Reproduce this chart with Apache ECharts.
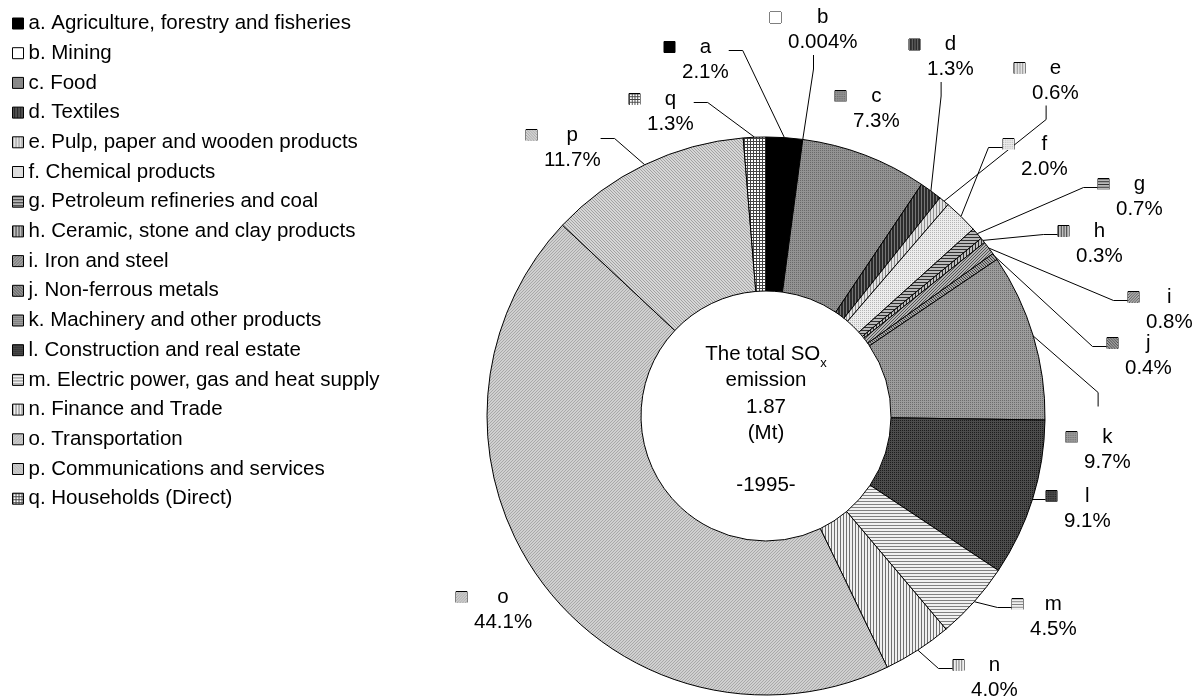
<!DOCTYPE html>
<html>
<head>
<meta charset="utf-8">
<script src="https://cdn.jsdelivr.net/npm/echarts@6/dist/echarts.min.js"></script>
<style>
html, body { margin: 0; padding: 0; background: #fff; }
#main { width: 1194px; height: 697px; }
</style>
</head>
<body>
<div id="main"></div>
<script>
// sectors of the SOx emission, 1995
var sectors = [
    'a. Agriculture, forestry and fisheries',
    'b. Mining',
    'c. Food',
    'd. Textiles',
    'e. Pulp, paper and wooden products',
    'f. Chemical products',
    'g. Petroleum refineries and coal',
    'h. Ceramic, stone and clay products',
    'i. Iron and steel',
    'j. Non-ferrous metals',
    'k. Machinery and other products',
    'l. Construction and real estate',
    'm. Electric power, gas and heat supply',
    'n. Finance and Trade',
    'o. Transportation',
    'p. Communications and services',
    'q. Households (Direct)'
];
var letters = ['a', 'b', 'c', 'd', 'e', 'f', 'g', 'h', 'i', 'j', 'k', 'l', 'm', 'n', 'o', 'p', 'q'];
// share of total (%)
var shares = [2.1, 0.004, 7.3, 1.3, 0.6, 2.0, 0.7, 0.3, 0.8, 0.4, 9.7, 9.1, 4.5, 4.0, 44.1, 11.7, 1.3];
var totalEmission = '1.87';
var year = '1995';

var FONT = 'Liberation Sans, Arial, sans-serif';
var FS = 20.5;
var CX = 766, CY = 416;

// where each label sits: left edge of its key box, middle of its first line
var labelPos = [
    [664, 47], [770, 17.5], [835, 96], [909, 44.5], [1014, 68], [1003, 144],
    [1098, 184], [1058, 231], [1128, 297], [1107, 343], [1066, 437], [1046, 496],
    [1012, 604], [953, 665], [456, 597], [526, 135], [629, 99]
];
var noLine = ['c', 'o'];

// fill patterns (like the old excel hatches)
var patterns = [
    {type: 'solid', bg: '#000000'},
    {type: 'solid', bg: '#ffffff'},
    {type: 'dots', bg: '#939393', fg: '#6a6a6a', step: 2},
    {type: 'vlines', bg: '#2c2c2c', fg: '#767676', step: 3},
    {type: 'vlines', bg: '#e2e2e2', fg: '#909090', step: 3},
    {type: 'dots', bg: '#ededed', fg: '#b4b4b4', step: 2},
    {type: 'hlines', bg: '#b8b8b8', fg: '#303030', step: 3},
    {type: 'vlines', bg: '#c0c0c0', fg: '#303030', step: 3},
    {type: 'diag', bg: '#b4b4b4', fg: '#505050', step: 3, dir: 1},
    {type: 'diag', bg: '#a4a4a4', fg: '#404040', step: 3, dir: -1},
    {type: 'dots', bg: '#9c9c9c', fg: '#6c6c6c', step: 2},
    {type: 'dots', bg: '#4c4c4c', fg: '#1c1c1c', step: 2},
    {type: 'hlines', bg: '#f0f0f0', fg: '#808080', step: 3},
    {type: 'vlines', bg: '#f0f0f0', fg: '#707070', step: 3},
    {type: 'diag', bg: '#d0d0d0', fg: '#a8a8a8', step: 3, dir: 1},
    {type: 'diag', bg: '#d6d6d6', fg: '#a2a2a2', step: 3, dir: -1},
    {type: 'grid', bg: '#ffffff', fg: '#444444', step: 3}
];

function makeTile(p) {
    var c = document.createElement('canvas');
    c.width = 12; c.height = 12;
    var ctx = c.getContext('2d');
    ctx.fillStyle = p.bg;
    ctx.fillRect(0, 0, 12, 12);
    ctx.fillStyle = p.fg || p.bg;
    for (var x = 0; x < 12; x++) {
        for (var y = 0; y < 12; y++) {
            var on = false;
            if (p.type == 'dots') on = (x % p.step == 0 && y % p.step == 0);
            if (p.type == 'vlines') on = (x % p.step == 0);
            if (p.type == 'hlines') on = (y % p.step == 0);
            if (p.type == 'grid') on = (x % p.step == 0 || y % p.step == 0);
            if (p.type == 'diag') on = (((x + p.dir * y) % p.step + p.step) % p.step == 0);
            if (on) ctx.fillRect(x, y, 1, 1);
        }
    }
    return c;
}

function pctText(v) {
    return (v < 0.1 ? String(v) : v.toFixed(1)) + '%';
}

var tiles = patterns.map(makeTile);

var data = sectors.map(function (name, i) {
    return {
        name: name,
        value: shares[i],
        itemStyle: {color: {image: tiles[i], repeat: 'repeat'}},
        label: {
            formatter: '{ic|}{gp|}{n|' + letters[i] + '}\n{pd|}{p|' + pctText(shares[i]) + '}',
            rich: {
                ic: {width: 11, height: 11, backgroundColor: {image: tiles[i]}, borderColor: '#000', borderWidth: 1, align: 'left', verticalAlign: 'middle'},
                gp: {width: 7, align: 'left', verticalAlign: 'middle'},
                n: {align: 'center', verticalAlign: 'middle', fontSize: FS, fontFamily: FONT, color: '#000'},
                pd: {width: 18, align: 'left', verticalAlign: 'middle'},
                p: {align: 'center', verticalAlign: 'middle', fontSize: FS, fontFamily: FONT, color: '#000'}
            }
        },
        labelLine: {show: noLine.indexOf(letters[i]) < 0}
    };
});

var myChart = echarts.init(document.getElementById('main'));

var option = {
    animation: false,
    backgroundColor: '#fff',
    legend: {
        orient: 'vertical',
        left: 7,
        top: 8,
        icon: 'rect',
        itemWidth: 11,
        itemHeight: 11,
        itemGap: 8.7,
        selectedMode: false,
        data: sectors,
        itemStyle: {borderColor: '#000', borderWidth: 1},
        textStyle: {fontSize: FS, color: '#000', fontFamily: FONT}
    },
    graphic: [{
        type: 'text',
        x: CX,
        y: CY + 4,
        silent: true,
        style: {
            text: 'The total SO{sub|x}\nemission\n' + totalEmission + '\n(Mt)\n\n-' + year + '-',
            align: 'center',
            verticalAlign: 'middle',
            fontSize: FS,
            fontFamily: FONT,
            lineHeight: 26.3,
            fill: '#000',
            rich: {
                sub: {fontSize: 13, fontFamily: FONT, padding: [18, 0, 0, 0], fill: '#000'}
            }
        }
    }],
    series: [{
        type: 'pie',
        silent: true,
        center: [CX, CY],
        radius: [125, 279],
        startAngle: 90,
        clockwise: true,
        avoidLabelOverlap: false,
        data: data,
        itemStyle: {borderColor: '#000', borderWidth: 1},
        label: {show: true, position: 'outside', lineHeight: 25, fontSize: FS, fontFamily: FONT, color: '#000'},
        labelLine: {show: true, length: 10, length2: 14, lineStyle: {color: '#000', width: 1}},
        labelLayout: function (params) {
            var p = labelPos[params.dataIndex];
            return {x: p[0], y: p[1] - 12.5, align: 'left', verticalAlign: 'top'};
        }
    }]
};

myChart.setOption(option);
</script>
</body>
</html>
